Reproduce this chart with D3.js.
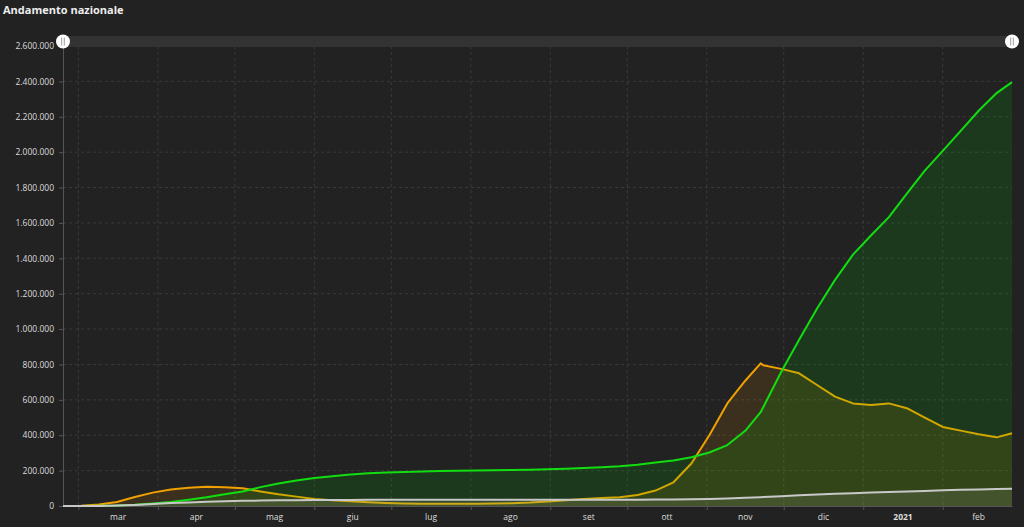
<!DOCTYPE html>
<html><head><meta charset="utf-8">
<script src="https://cdnjs.cloudflare.com/ajax/libs/d3/7.8.5/d3.min.js"></script>
<style>
html,body{margin:0;padding:0;background:#222;}
svg{display:block;font-family:"Open Sans","DejaVu Sans",sans-serif;}
</style></head>
<body>
<svg id="chart" width="1024" height="527"></svg>
<script>
const dates = ["2020-02-24","2020-03-02","2020-03-09","2020-03-16","2020-03-23","2020-03-30","2020-04-06","2020-04-13","2020-04-20","2020-04-27","2020-05-04","2020-05-11","2020-05-18","2020-05-25","2020-06-01","2020-06-08","2020-06-15","2020-06-22","2020-06-29","2020-07-06","2020-07-13","2020-07-20","2020-07-27","2020-08-03","2020-08-10","2020-08-17","2020-08-24","2020-08-31","2020-09-07","2020-09-14","2020-09-21","2020-09-28","2020-10-05","2020-10-12","2020-10-19","2020-10-26","2020-11-02","2020-11-09","2020-11-16","2020-11-22","2020-11-23","2020-11-30","2020-12-07","2020-12-14","2020-12-21","2020-12-28","2021-01-04","2021-01-11","2021-01-18","2021-01-25","2021-02-01","2021-02-08","2021-02-15","2021-02-22","2021-02-28"];
const positivi = [221,1835,7985,23073,50418,75528,93187,103616,108237,105813,99980,82488,66553,52942,39893,32872,26274,20972,16496,14242,13179,12404,12565,12579,13714,16014,19714,26078,32993,39187,45489,49618,62576,87193,134003,240000,400000,580000,708000,806000,796000,775000,750000,684000,618000,580000,571000,580000,553000,500000,447000,426000,405000,388000,411000];
const guariti = [1,149,724,2749,7432,14620,22837,35435,48877,66624,81654,106587,127326,144658,158355,168646,178526,184585,189196,192815,195106,197628,198756,200460,201947,203968,205203,207944,210801,214645,219670,224417,232681,245964,257374,275404,302275,344497,425000,530000,558000,757000,940000,1116000,1278000,1421000,1529000,1633000,1765000,1896000,2007000,2120000,2234000,2334000,2396000];
const deceduti = [7,52,463,2158,6077,11591,16523,20465,24114,26977,29079,30739,32007,32955,33475,33964,34371,34657,34744,34869,34967,35058,35112,35171,35209,35400,35441,35483,35553,35610,35724,35875,36030,36246,36616,37700,39412,42330,46464,49823,50453,55576,60606,65011,69214,72370,76329,79203,82177,85162,88845,91273,93577,95992,97699];
const monthLabels = ["mar","apr","mag","giu","lug","ago","set","ott","nov","dic","2021","feb"];
const yTicks = [0,200000,400000,600000,800000,1000000,1200000,1400000,1600000,1800000,2000000,2200000,2400000,2600000];
const title = "Andamento nazionale";

const parse = d3.timeParse("%Y-%m-%d");
const D = dates.map(parse);
const rows = D.map((d,i)=>({d, pos:positivi[i], gua:guariti[i], dec:deceduti[i]}));

const svg = d3.select("#chart");
const L = 63, R = 1012, T = 46, B = 506;
const x = d3.scaleTime().domain([parse("2020-02-24"), parse("2021-02-28")]).range([L, R]);
const y = d3.scaleLinear().domain([0, 2600000]).range([B, T]);
const loc = d3.formatLocale({decimal:",", thousands:".", grouping:[3], currency:["€",""]});
const fmt = loc.format(",d");

svg.append("rect").attr("width",1024).attr("height",527).attr("fill","#222");

// title
svg.append("text").attr("x",3).attr("y",13.5).attr("fill","#eee")
  .attr("font-size","11px").attr("font-weight","bold").text(title);

// grid
const months = d3.timeMonth.range(parse("2020-03-01"), parse("2021-02-02"));
const g = svg.append("g");
g.selectAll(".hg").data(yTicks.filter(v=>v>0)).join("line")
  .attr("x1",L).attr("x2",R).attr("y1",d=>y(d)).attr("y2",d=>y(d))
  .attr("stroke","#3a3a3a").attr("stroke-dasharray","3,3");
g.selectAll(".vg").data(months).join("line")
  .attr("x1",d=>x(d)).attr("x2",d=>x(d)).attr("y1",T).attr("y2",B)
  .attr("stroke","#3a3a3a").attr("stroke-dasharray","3,3");

// axes
const yAxis = d3.axisLeft(y).tickValues(yTicks).tickFormat(fmt).tickSize(4).tickPadding(5);
const ya = svg.append("g").attr("transform",`translate(${L},0)`).call(yAxis);
ya.select(".domain").attr("stroke","#555");
ya.selectAll(".tick line").attr("stroke","#555");
ya.selectAll("text").attr("fill","#ddd").attr("font-size","8.5px").attr("font-family","'Open Sans',sans-serif");

const xAxis = d3.axisBottom(x).tickValues(months).tickFormat("").tickSize(4).tickSizeOuter(0);
const xa = svg.append("g").attr("transform",`translate(0,${B})`).call(xAxis);
xa.select(".domain").attr("stroke","#555");
xa.selectAll(".tick line").attr("stroke","#555");

// month labels at mid-month
svg.append("g").selectAll("text").data(months).join("text")
  .attr("x",d=>(x(d)+x(d3.timeMonth.offset(d,1)))/2)
  .attr("y",520).attr("text-anchor","middle").attr("fill","#ddd")
  .attr("font-size","8.5px")
  .attr("font-weight",(d,i)=>monthLabels[i]==="2021"?"bold":"normal")
  .text((d,i)=>monthLabels[i]);

// series
const series = [
  {k:"pos", line:"#f0a000", fill:"rgba(240,160,0,0.12)", w:2},
  {k:"gua", line:"#11dd11", fill:"rgba(0,220,0,0.13)", w:2},
  {k:"dec", line:"#c8c8c8", fill:"rgba(200,200,200,0.12)", w:2}
];
const plot = svg.append("g");
series.forEach(s=>{
  const area = d3.area().x(r=>x(r.d)).y0(y(0)).y1(r=>y(r[s.k])).curve(d3.curveLinear);
  const line = d3.line().x(r=>x(r.d)).y(r=>y(r[s.k])).curve(d3.curveLinear);
  plot.append("path").datum(rows).attr("d",area).attr("fill",s.fill);
  plot.append("path").datum(rows).attr("d",line).attr("fill","none")
    .attr("stroke",s.line).attr("stroke-width",s.w).attr("stroke-linejoin","round");
});

// scrollbar
svg.append("rect").attr("x",L).attr("y",36).attr("width",R-L).attr("height",11).attr("fill","#333");
[L,R].forEach(cx=>{
  svg.append("circle").attr("cx",cx).attr("cy",41.5).attr("r",7).attr("fill","#fff");
  [-1.3,1.3].forEach(o=>svg.append("line").attr("x1",cx+o).attr("x2",cx+o)
    .attr("y1",37.5).attr("y2",45.5).attr("stroke","#888").attr("stroke-width",0.8));
});
</script>
</body></html>
